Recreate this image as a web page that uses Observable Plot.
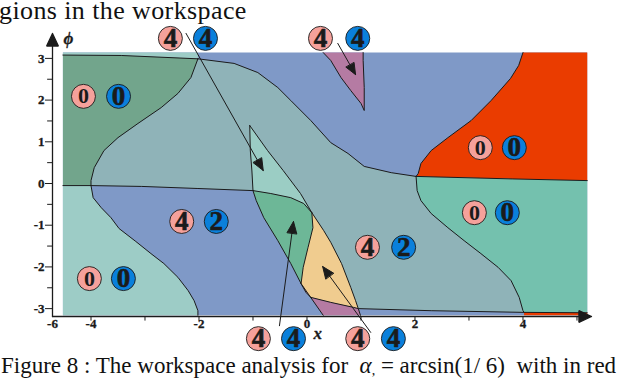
<!DOCTYPE html>
<html><head><meta charset="utf-8">
<script src="https://cdn.jsdelivr.net/npm/d3@7"></script>
<script src="https://cdn.jsdelivr.net/npm/@observablehq/plot@0.6"></script>
<style>
html,body{margin:0;padding:0;background:#fff;}
#wrap{position:relative;width:618px;height:380px;overflow:hidden;font-family:"Liberation Serif",serif;color:#111;}
#title{position:absolute;left:-1px;top:2px;font-size:26px;line-height:18px;white-space:nowrap;letter-spacing:0.4px;}
#chart{position:absolute;left:0;top:22px;}
#caption{position:absolute;left:1px;top:354px;font-size:23px;line-height:23px;white-space:nowrap;}
#caption .sub{font-size:14px;position:relative;top:2px;}
</style></head><body>
<div id="wrap">
<div id="title">gions in the workspace</div>
<div id="chart"></div>
<div id="caption">Figure 8 : The workspace analysis for&nbsp; <i>α</i><span class="sub">,</span> = arcsin(1/ 6)&nbsp; with in red</div>
</div>
<script>
// ---- frame extents of the coloured map (x, phi) ----
const X0 = -4.52, X1 = 5.19, Y0 = -3.16, Y1 = 3.14;

// ---- boundary curves [x, phi] ----
const topLine    = [[-4.52,3.08],[-3.44,3.07],[-2.02,2.99]];
const curveAUpper = [[-2.02,2.99],[-2.15,2.54],[-2.39,2.16],[-2.70,1.82],[-3.13,1.44],[-3.50,1.10],[-3.76,0.79],[-3.94,0.38],[-4.00,0.07],[-4.00,-0.05]];
const curveALower = [[-4.00,-0.05],[-3.96,-0.34],[-3.81,-0.58],[-3.63,-0.82],[-3.48,-1.08],[-3.17,-1.39],[-2.89,-1.68],[-2.65,-1.92],[-2.39,-2.25],[-2.20,-2.57],[-2.09,-2.81],[-2.02,-3.05],[-2.02,-3.16]];
const midLine    = [[-4.52,-0.05],[-4.00,-0.05],[-3.06,-0.07],[-2.02,-0.12],[-1.00,-0.17]];
const lensTop    = [[-1.00,-0.17],[-0.67,-0.24],[-0.30,-0.34],[-0.06,-0.48],[0.09,-0.70]];
const curveB     = [[-2.02,2.99],[-1.35,2.88],[-0.91,2.66],[-0.54,2.30],[-0.30,1.99],[0.07,1.51],[0.44,0.98],[0.76,0.72],[1.06,0.41],[1.56,0.26],[2.02,0.17]];
const redEdge    = [[2.02,0.17],[2.06,0.24],[2.11,0.48],[2.30,0.79],[2.61,1.10],[3.04,1.51],[3.41,1.99],[3.77,2.52],[3.92,2.83],[4.00,3.14]];
const rightLine  = [[2.02,0.17],[3.80,0.11],[5.19,0.07]];
const curveC     = [[2.02,0.17],[2.04,-0.17],[2.11,-0.41],[2.30,-0.72],[2.61,-1.06],[2.91,-1.37],[3.22,-1.68],[3.54,-2.01],[3.78,-2.33],[3.93,-2.73],[4.00,-3.05],[4.02,-3.09]];
const bottomLine = [[0.07,-2.73],[0.44,-2.85],[0.86,-2.97],[0.95,-3.00],[2.30,-3.05],[4.02,-3.09],[5.19,-3.10]];
const wedgeLeft  = [[-1.06,1.39],[-1.05,0.80],[-1.02,0.30],[-1.00,-0.17]];
const curveD     = [[-1.06,1.39],[-0.73,0.79],[-0.44,0.31],[-0.12,-0.24],[0.09,-0.70],[0.31,-1.13],[0.44,-1.41],[0.64,-1.92],[0.81,-2.49],[0.90,-2.81],[0.95,-3.00],[0.99,-3.16]];
const lensRight  = [[0.09,-0.70],[0.11,-1.06],[0.02,-1.53],[-0.07,-2.01],[-0.11,-2.40],[-0.02,-2.61],[0.07,-2.73]];
const lensLeft   = [[-1.00,-0.17],[-0.94,-0.41],[-0.80,-0.82],[-0.54,-1.37],[-0.30,-1.92],[-0.11,-2.40]];
const plumEdge   = [[-0.11,-2.40],[0.30,-3.16]];
const spike      = [[0.30,3.14],[0.44,2.95],[0.63,2.54],[0.81,2.23],[1.00,1.92],[1.06,1.75],[1.06,2.30],[1.04,2.95],[1.04,3.14]];

// ---- annotation badges ----
const pinkX = [-2.53, 0.25, -4.14, -4.03, -2.32, 1.12, 3.21, 3.10, -0.90, 0.94];
const blueX = [-1.88, 0.94, -3.49, -3.40, -1.68, 1.79, 3.84, 3.71, -0.25, 1.60];
const badgeY = [3.48, 3.48, 2.09, -2.28, -0.91, -1.53, 0.86, -0.70, -3.72, -3.72];
const pinkDigits = ["4","4","0","0","4","4","0","0","4","4"];
const blueDigits = ["4","4","0","0","2","2","0","0","4","4"];

// ---- pointer arrows ----
const arrowX1 = [-2.24, 0.57, -0.51, 1.18];
const arrowY1 = [3.60, 3.36, -3.41, -3.57];
const arrowX2 = [-0.81, 0.90, -0.25, 0.29];
const arrowY2 = [0.31, 2.61, -0.91, -1.99];

// ---- axes ----
const axisX0 = -4.713, axisY0 = -3.189, axisXEnd = 5.269, axisYEnd = 3.597;
const xTicks = [-4,-3,-2,-1,0,1,2,3,4,5];
const xLabelValues = [-4.713,-4,-2,0,2,4];
const xLabelTexts = ["-6","-4","-2","0","2","4"];
const yTicksMajor = [-3,-2,-1,0,1,2,3];
const yTicksMinor = [-2.5,-1.5,-0.5,0.5,1.5,2.5];
const yLabelTexts = ["-3","-2","-1","0","1","2","3"];
const axisNames = [{t:"ϕ", x:-4.42, y:3.48}, {t:"x", x:0.20, y:-3.60}];

const palette = {blue:"#7F99C7", grayTeal:"#8FB3B8", darkGreen:"#72A58C", lightTeal:"#9DCCC6",
  red:"#EA3C00", teal:"#74C1AE", plum:"#B57BA3", peach:"#F0CC8F", lens:"#6DB797", wedge:"#9BCDC4"};

const rev = a => a.slice().reverse();
const regions = [
  {name:"base", color:palette.blue, pts:[[X0,Y1],[X1,Y1],[X1,Y0],[X0,Y0]]},
  {name:"middle", color:palette.grayTeal, pts:[...curveAUpper, ...midLine.slice(2), ...lensLeft.slice(1), ...lensRight.slice(5), ...bottomLine.slice(1,6), ...rev(curveC).slice(1), ...rev(curveB).slice(1)]},
  {name:"topStrip", color:palette.lightTeal, pts:[[X0,Y1],[topLine[2][0],Y1], ...rev(topLine)]},
  {name:"upperLeft", color:palette.darkGreen, pts:[...topLine, ...curveAUpper.slice(1), [X0,midLine[0][1]]]},
  {name:"lowerLeft", color:palette.lightTeal, pts:[[X0,midLine[0][1]], ...curveALower, [X0,Y0]]},
  {name:"red", color:palette.red, pts:[...redEdge, [X1,Y1], ...rev(rightLine).slice(0,-1)]},
  {name:"rightTeal", color:palette.teal, pts:[...rightLine, ...rev(bottomLine).slice(0,2), ...rev(curveC).slice(1)]},
  {name:"redStrip", color:palette.red, pts:[bottomLine[5], bottomLine[6], [X1,Y0], [bottomLine[5][0],Y0]]},
  {name:"wedge", color:palette.wedge, pts:[...wedgeLeft, ...lensTop.slice(1), ...rev(curveD.slice(0,5)).slice(1)]},
  {name:"lens", color:palette.lens, pts:[...lensTop, ...lensRight.slice(1,5), ...rev(lensLeft).slice(1)]},
  {name:"peach", color:palette.peach, pts:[...curveD.slice(4,11), ...rev(bottomLine.slice(0,4)).slice(1), ...rev(lensRight).slice(1)]},
  {name:"plumLow", color:palette.plum, pts:[...lensRight.slice(4), ...bottomLine.slice(1,4), curveD[11], plumEdge[1]]},
  {name:"plumTop", color:palette.plum, pts:spike}
];
const regionRows = regions.flatMap(r => r.pts.map(([x,y]) => ({region:r.name, color:r.color, x, y})));
const borders = {topLine, curveAUpper, curveALower, midLine, lensTop, curveB, redEdge, rightLine, curveC, bottomLine, wedgeLeft, curveD, lensRight, lensLeft, plumEdge, spike};
const borderRows = Object.entries(borders).flatMap(([k,pts]) => pts.map(([x,y]) => ({curve:k, x, y})));

const pinkRows = pinkX.map((x,i) => ({x, y:badgeY[i], t:pinkDigits[i]}));
const blueRows = blueX.map((x,i) => ({x, y:badgeY[i], t:blueDigits[i]}));
const arrowRows = arrowX1.map((x1,i) => ({x1, y1:arrowY1[i], x2:arrowX2[i], y2:arrowY2[i]}));
const axisArrows = [{x1:axisX0,y1:axisY0,x2:axisXEnd,y2:axisY0},{x1:axisX0,y1:axisY0,x2:axisX0,y2:axisYEnd}];
const xLabelRows = xLabelValues.map((x,i)=>({x, t:xLabelTexts[i]}));
const yLabelRows = yTicksMajor.map((y,i)=>({y, t:yLabelTexts[i]}));

const ink = "#1b1b1b";
const serif = "Liberation Serif";
const heavy = {fontFamily: serif, fontWeight: "bold", fill: ink, stroke: ink};
const plot = Plot.plot({
  width: 618, height: 334,
  marginLeft: 52, marginRight: 27, marginTop: 11, marginBottom: 40,
  x: {domain: [axisX0, axisXEnd], axis: null},
  y: {domain: [axisY0, axisYEnd], axis: null},
  color: {type: "identity"},
  style: {background: "transparent", overflow: "visible"},
  marks: [
    Plot.line(regionRows, {x:"x", y:"y", z:"region", fill:"color", stroke:"none", curve:"linear"}),
    Plot.line(borderRows, {x:"x", y:"y", z:"curve", stroke:ink, strokeWidth:1, curve:"linear"}),
    // axes
    Plot.arrow(axisArrows, {x1:"x1", y1:"y1", x2:"x2", y2:"y2", stroke:ink, strokeWidth:1.3, headLength:16, headAngle:50}),
    Plot.ruleX(xTicks, {x:d=>d, y1:axisY0, y2:axisY0-0.11, stroke:ink, strokeWidth:1}),
    Plot.ruleY(yTicksMajor, {y:d=>d, x1:axisX0-0.13, x2:axisX0, stroke:ink, strokeWidth:1}),
    Plot.ruleY(yTicksMinor, {y:d=>d, x1:axisX0-0.09, x2:axisX0, stroke:ink, strokeWidth:1}),
    Plot.text(xLabelRows, {x:"x", text:"t", frameAnchor:"bottom", dy:11, fontSize:13, strokeWidth:0.3, ...heavy}),
    Plot.text(yLabelRows, {y:"y", text:"t", frameAnchor:"left", dx:-8, textAnchor:"end", fontSize:13, strokeWidth:0.3, ...heavy}),
    Plot.text(axisNames, {x:"x", y:"y", text:"t", fontStyle:"italic", fontSize:17, strokeWidth:0.3, ...heavy}),
    // pointers
    Plot.arrow(arrowRows, {x1:"x1", y1:"y1", x2:"x2", y2:"y2", stroke:ink, strokeWidth:1, headLength:19, headAngle:45}),
    // badges
    Plot.dot(pinkRows, {x:"x", y:"y", r:12, fill:"#F5A19B", stroke:ink, strokeWidth:0.9}),
    Plot.dot(blueRows, {x:"x", y:"y", r:12, fill:"#0A80DB", stroke:ink, strokeWidth:0.9}),
    Plot.text(pinkRows, {x:"x", y:"y", text:"t", fontSize:d => d.t === "0" ? 22 : 27, strokeWidth:d => d.t === "0" ? 0 : 0.6, ...heavy}),
    Plot.text(blueRows, {x:"x", y:"y", text:"t", fontSize:27, strokeWidth:0.6, ...heavy})
  ]
});
document.getElementById("chart").appendChild(plot);
// force the serif face on every SVG text (inline style wins over inherited defaults)
plot.querySelectorAll("text").forEach(t => { t.style.fontFamily = '"Liberation Serif", "Times New Roman", serif'; });
// fill arrowheads as solid triangles
plot.querySelectorAll('g[aria-label="arrow"] path').forEach(p => {
  const d = p.getAttribute("d");
  if (d && !/Z$/.test(d)) p.setAttribute("d", d + "Z");
  p.setAttribute("fill", ink);
  p.setAttribute("stroke-linejoin", "miter");
});
</script>
</body></html>
